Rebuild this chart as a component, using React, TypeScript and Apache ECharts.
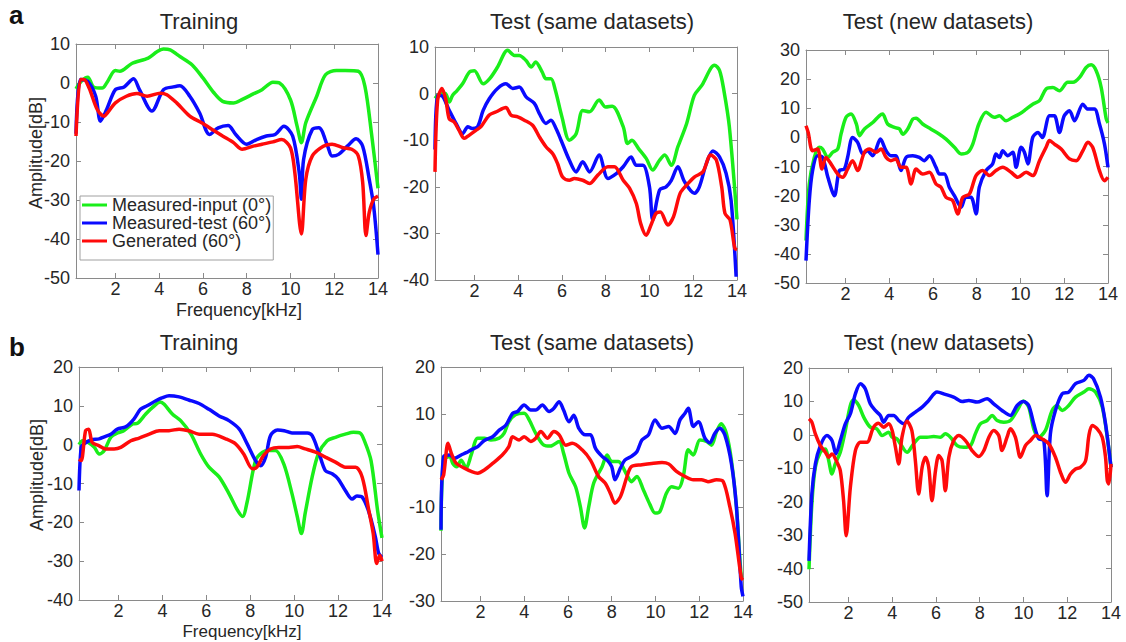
import React, { useEffect, useRef } from "react";
import * as echarts from "echarts";

type P = [number, number][];

const seriesNames = ["Measured-input (0°)", "Measured-test (60°)", "Generated (60°)"];
const panelTitles = ["Training", "Test (same datasets)", "Test (new datasets)"];
const freqTicks = [2, 4, 6, 8, 10, 12, 14];

// ---- row a ----
const a1Green: P = [[0.2,-1.5],[0.45,0.5],[0.74,1.5],[1.0,-1],[1.4,-1.3],[1.6,0],[2.0,3.2],[2.2,3],[2.75,5],[3.5,6.4],[3.9,8],[4.2,8.7],[4.5,8.5],[4.95,6.8],[5.5,4.7],[6.0,1.3],[6.5,-2.5],[6.9,-4.7],[7.4,-5.1],[7.8,-4.2],[8.3,-2.8],[8.7,-1.7],[9.2,0.2],[9.5,0],[10.0,-4.3],[10.3,-11],[10.5,-15.3],[10.7,-10.2],[11.2,-3.4],[11.6,2.1],[12.1,3.2],[12.5,3.2],[13.1,3],[13.4,-0.8],[13.7,-12.8],[14.0,-27]];
const a1Blue: P = [[0.2,-13],[0.4,0.9],[0.74,0.4],[1.1,-3.4],[1.32,-9.8],[1.6,-6.8],[2.0,-1.7],[2.4,-1],[2.83,1.1],[3.1,-1.7],[3.67,-7.2],[4.2,-1.7],[4.65,-1],[4.95,-0.7],[5.4,-3.4],[5.85,-7.7],[6.3,-13.2],[6.7,-11.5],[7.15,-10.9],[7.5,-13.2],[8.0,-15.7],[8.45,-14.5],[8.9,-13.6],[9.3,-13.2],[9.7,-11.1],[10.1,-13.6],[10.4,-23],[10.5,-29.8],[10.6,-19.6],[11.0,-11.9],[11.3,-11.5],[11.7,-16.2],[11.9,-18.7],[12.2,-18.3],[12.6,-16.2],[13.0,-14.3],[13.3,-16.2],[13.6,-24.7],[13.8,-31.5],[14,-44]];
const a1Red: P = [[0.2,-13.6],[0.4,0.9],[0.56,0.9],[0.8,-1.3],[1.17,-6.8],[1.47,-8.5],[1.7,-7.2],[2.0,-5.1],[2.5,-3.4],[2.98,-2.7],[3.45,-3.4],[4.05,-2.6],[4.35,-3],[4.8,-5.1],[5.4,-8.5],[5.94,-10.2],[6.5,-12.2],[6.9,-13.6],[7.4,-15.3],[7.8,-17],[8.3,-16.2],[8.7,-15.7],[9.2,-15.1],[9.6,-14.5],[10.0,-16.6],[10.2,-23],[10.5,-38.7],[10.7,-24.7],[11.0,-18.7],[11.5,-16.2],[11.9,-15.7],[12.4,-16.6],[12.8,-17],[13.1,-18.7],[13.3,-25.5],[13.45,-39.1],[13.6,-33.2],[13.8,-29.8],[14,-29]];

const a2Green: P = [[0.2,-1],[0.47,0],[0.67,0],[0.85,-1.8],[1.0,-0.4],[1.2,0.6],[1.46,2.1],[1.77,4.6],[2.0,4.9],[2.4,2.1],[2.7,3.2],[3.06,5.7],[3.52,9.3],[3.83,8.2],[4.05,8.2],[4.36,7.1],[4.6,5.7],[4.8,6.8],[5.1,4.6],[5.27,3.2],[5.5,3.2],[5.7,0.7],[6.0,-5],[6.34,-10],[6.65,-8.6],[6.95,-3.6],[7.26,-3.9],[7.7,-1.4],[8.0,-2.9],[8.3,-2.7],[8.8,-7.1],[9.0,-10.7],[9.2,-10],[9.5,-11.8],[9.85,-13.9],[10.15,-16.4],[10.46,-14.3],[10.7,-13.2],[11.0,-15.4],[11.3,-11.4],[11.7,-6.4],[12.05,-0.4],[12.4,1.8],[12.8,5.4],[12.97,6.1],[13.2,5],[13.4,0.7],[13.65,-7.1],[14.0,-27]];
const a2Blue: P = [[0.2,-12],[0.3,-0.4],[0.47,-0.4],[0.85,-3.6],[1.16,-6.4],[1.46,-8.6],[1.7,-7.1],[1.9,-7.5],[2.15,-7.1],[2.4,-3.6],[2.68,-1.1],[3.06,1.1],[3.44,2.1],[3.75,1.1],[4.05,1.4],[4.36,-0.7],[4.74,-2.1],[4.97,-4.3],[5.27,-6.4],[5.5,-5.7],[5.73,-7.5],[5.96,-10],[6.34,-14.3],[6.65,-16.8],[6.95,-14.6],[7.26,-16.8],[7.7,-13.2],[8.1,-18.2],[8.5,-17.1],[8.8,-15.7],[9.16,-13.6],[9.4,-15.4],[9.7,-15.4],[10.0,-20],[10.15,-27.1],[10.46,-20.7],[10.76,-20],[11.0,-18.6],[11.3,-15.7],[11.6,-18.9],[12.05,-21.4],[12.28,-20],[12.6,-15],[12.9,-12.3],[13.2,-13.6],[13.5,-17.1],[13.73,-22.9],[13.96,-39.3]];
const a2Red: P = [[0.2,-16.8],[0.32,-1.4],[0.52,1.1],[0.7,-1.4],[0.85,-5.4],[1.08,-6.1],[1.3,-7.9],[1.54,-9.6],[1.77,-8.9],[2.07,-7.9],[2.3,-7.1],[2.68,-4.6],[3.0,-3.9],[3.44,-3],[3.67,-4.6],[3.98,-5],[4.28,-5.7],[4.66,-6.8],[4.97,-9.3],[5.27,-11.4],[5.58,-12.9],[5.8,-15],[6.03,-17.9],[6.34,-18.6],[6.57,-18.2],[6.95,-18.6],[7.26,-19.3],[7.64,-17.5],[8.1,-15.7],[8.4,-15.7],[8.8,-18.6],[9.1,-20.4],[9.4,-23.6],[9.6,-27.9],[9.85,-30.4],[10.07,-28.2],[10.3,-25.7],[10.5,-25.4],[10.84,-28.2],[11.1,-26.4],[11.4,-21.4],[11.7,-19.6],[12.05,-17.9],[12.44,-16.8],[12.8,-13.2],[13.06,-14.3],[13.3,-20],[13.45,-25.7],[13.68,-27.1],[13.9,-33.2],[14.0,-33.5]];

const a3Green: P = [[0.2,-35.4],[0.35,-16],[0.58,-6.9],[0.8,-3.4],[0.96,-4],[1.2,-6.9],[1.42,-5.1],[1.65,-4],[1.8,1.1],[2.03,6.9],[2.26,8],[2.5,4.6],[2.64,0.6],[2.87,2.9],[3.25,5.1],[3.55,7.4],[3.7,8],[3.93,4.6],[4.24,3.4],[4.47,2.9],[4.62,1.1],[4.85,2.9],[5.08,6.3],[5.23,6.6],[5.53,4.6],[5.9,2.9],[6.3,1.1],[6.6,-0.6],[6.98,-3.4],[7.29,-5.7],[7.6,-5.1],[7.82,-2.3],[8.1,4.6],[8.43,8.6],[8.8,6.9],[9.04,7.4],[9.34,5.7],[9.65,6.9],[9.95,8],[10.26,9.7],[10.56,11.4],[10.87,12.6],[11.17,16.6],[11.48,17.1],[11.78,16],[12.16,18.9],[12.4,18.9],[12.7,20.6],[13.0,24],[13.23,24.9],[13.46,22.9],[13.69,17.1],[13.92,6.3],[14.0,5]];
const a3Blue: P = [[0.2,-42.3],[0.35,-21.7],[0.5,-11.4],[0.73,-6.3],[0.96,-6.9],[1.2,-13.7],[1.5,-20],[1.72,-11.4],[1.95,-10.9],[2.1,-6.9],[2.33,0],[2.56,-1.7],[2.8,-5.7],[3.0,-4.6],[3.25,-6.3],[3.6,-0.6],[3.86,-4.6],[4.08,-6.3],[4.3,-6.3],[4.54,-11.4],[4.77,-6.9],[5.08,-6.3],[5.38,-6.9],[5.6,-8],[5.84,-6.3],[6.14,-10.3],[6.3,-12.6],[6.52,-12.6],[6.75,-17.1],[6.98,-20],[7.29,-24],[7.5,-20.6],[7.74,-20.6],[7.97,-26.3],[8.12,-17.1],[8.43,-11.4],[8.73,-9.1],[8.88,-5.7],[9.04,-6.9],[9.19,-4.6],[9.42,-6.3],[9.65,-5.1],[9.8,-10.3],[10.03,-3.4],[10.18,-5.1],[10.34,-9.1],[10.56,0],[10.8,1.7],[11.0,0],[11.33,7.4],[11.55,7.4],[11.78,1.7],[12.0,7.4],[12.24,9.1],[12.47,5.7],[12.85,11.4],[13.08,9.7],[13.38,9.7],[13.61,4.6],[13.84,-2.3],[14.0,-10.3]];
const a3Red: P = [[0.2,4],[0.3,1.7],[0.5,-4.6],[0.73,-4],[0.93,-10.9],[1.11,-6.9],[1.34,-9.1],[1.65,-12.6],[1.88,-13.7],[2.1,-10.9],[2.33,-8],[2.56,-11.4],[2.87,-5.1],[3.1,-4],[3.4,-5.1],[3.63,-4],[3.86,-6.9],[4.08,-8],[4.3,-7.4],[4.54,-10.3],[4.77,-10.3],[5.0,-16],[5.23,-10.9],[5.53,-12.6],[5.84,-12],[6.14,-16],[6.37,-17.1],[6.6,-20.6],[6.9,-21.7],[7.13,-26.3],[7.36,-20.6],[7.67,-19.4],[7.97,-13.1],[8.27,-11.4],[8.58,-13.1],[8.88,-11.4],[9.19,-10.3],[9.57,-12],[9.88,-13.7],[10.26,-12],[10.56,-13.1],[10.87,-8],[11.17,-3.4],[11.33,-1.1],[11.55,-2.3],[11.86,-4],[12.24,-7.4],[12.55,-8],[12.85,-4.6],[13.08,-1.7],[13.3,-3.4],[13.61,-11.4],[13.84,-14.9],[14.0,-13.7]];

// ---- row b ----
const b1Green: P = [[0.2,0],[0.36,1],[0.6,0.6],[0.9,-0.7],[1.12,-2.4],[1.35,-1.5],[1.65,1.9],[1.95,3],[2.24,3.6],[2.64,5.3],[2.86,5.5],[3.24,7.9],[3.55,9.6],[3.9,11],[4.08,10.4],[4.45,7.9],[4.83,6.2],[5.3,2.7],[5.74,-2.4],[6.12,-5.8],[6.58,-8.3],[7.03,-12.6],[7.41,-16.8],[7.65,-18.5],[7.86,-14.7],[8.24,-4.1],[8.55,-2],[8.85,-1.5],[9.15,-1.5],[9.53,-5],[9.9,-12.6],[10.14,-18.5],[10.33,-22.9],[10.5,-17.7],[10.82,-8.3],[11.1,-2.4],[11.5,1],[11.88,1.9],[12.33,2.7],[12.7,3.2],[13.0,3],[13.2,1],[13.5,-4.1],[13.8,-17],[14,-24]];
const b1Blue: P = [[0.2,-11.8],[0.3,-0.7],[0.45,0.3],[0.75,1.2],[1.12,1.5],[1.35,2],[1.65,2.7],[1.95,4],[2.33,4.6],[2.7,6.6],[3.0,9.1],[3.3,10],[3.7,11.3],[4.0,12.1],[4.3,12.6],[4.76,12.3],[5.2,11.5],[5.67,10.6],[6.12,9.1],[6.58,7.4],[7.03,6.2],[7.5,4],[7.86,0.2],[8.24,-4.1],[8.47,-5.4],[8.7,-3.2],[8.92,2.3],[9.24,3.8],[9.55,3.6],[9.9,3],[10.2,3],[10.6,3],[10.82,2.3],[11.12,-2],[11.42,-6.7],[11.73,-7.5],[12.0,-8.8],[12.33,-11.8],[12.64,-14],[12.86,-13.2],[13.1,-13.5],[13.4,-17.3],[13.7,-23.8],[13.85,-28],[14,-29]];
const b1Red: P = [[0.2,-3.7],[0.3,-4.1],[0.5,3.6],[0.64,4],[0.8,0.6],[1.12,-0.3],[1.42,-1.1],[1.8,-1.1],[2.1,-0.7],[2.56,1],[2.94,1.7],[3.4,2.7],[3.85,3.6],[4.3,3.6],[4.76,4],[5.2,3.6],[5.67,2.7],[6.27,2.7],[6.88,1.5],[7.33,0.2],[7.7,-2.4],[8.1,-6.2],[8.3,-5.8],[8.6,-2.8],[8.92,-1.1],[9.3,-0.7],[9.76,-0.7],[10.14,-0.5],[10.5,-1.1],[11.0,-2],[11.42,-3.2],[11.88,-4.5],[12.33,-5.8],[12.8,-5.8],[13.1,-8.4],[13.4,-16.9],[13.6,-22.9],[13.76,-30.6],[13.9,-28.5],[14,-30]];

const b2Green: P = [[0.2,-15],[0.32,0.1],[0.6,0.9],[0.74,-0.6],[0.92,-1.3],[1.12,0.1],[1.35,-1.6],[1.58,1.2],[1.88,4.8],[2.18,4.8],[2.48,4.4],[2.86,4.8],[3.08,5.8],[3.3,8.3],[3.6,9.8],[4.0,10.1],[4.23,8.7],[4.53,5.8],[4.9,3.3],[5.2,3.1],[5.6,4.1],[5.8,1.6],[6.05,-2.7],[6.35,-5.6],[6.57,-9.9],[6.76,-14.4],[6.95,-9.9],[7.18,-4.8],[7.56,-1.3],[7.79,1.2],[8.0,-0.2],[8.3,-0.2],[8.7,-3.1],[8.9,-4.5],[9.15,-3.4],[9.45,-6.3],[9.75,-9.4],[9.98,-11.2],[10.2,-10.9],[10.5,-7],[10.74,-5.6],[11.05,-5.9],[11.27,-3.4],[11.5,2.3],[11.73,1.2],[12.03,4.4],[12.33,4.1],[12.56,3.3],[12.79,6.2],[13.0,7.9],[13.24,5.8],[13.47,0.1],[13.7,-9.9],[13.92,-24.8],[14,-25]];
const b2Blue: P = [[0.2,-14.8],[0.32,0.9],[0.6,1.2],[0.82,0.5],[1.12,1.2],[1.35,1.7],[1.58,2.3],[1.88,3],[2.18,4.3],[2.56,5.1],[2.86,6.5],[3.17,7.6],[3.47,10.1],[3.7,10.5],[4.0,11.9],[4.3,10.8],[4.53,10.8],[4.83,11.9],[5.14,10.5],[5.36,11.2],[5.6,12.6],[5.8,10.8],[6.05,8.3],[6.27,9.7],[6.5,6.9],[6.8,5.5],[7.03,5.5],[7.26,2.6],[7.56,0.9],[7.79,0.1],[8.0,-1.3],[8.15,-4.1],[8.4,-1.6],[8.6,0.1],[8.9,0.9],[9.15,1.9],[9.38,4.4],[9.68,5.5],[9.98,8.7],[10.3,6.9],[10.6,7.3],[10.9,5.8],[11.12,8.7],[11.35,10.1],[11.5,11.2],[11.73,7.3],[11.96,8.3],[12.26,4.8],[12.48,3.8],[12.71,5.8],[12.94,6.9],[13.17,5.5],[13.47,-0.6],[13.7,-9.9],[13.92,-27],[14,-29]];
const b2Red: P = [[0.2,-4.1],[0.32,-3.1],[0.52,3.7],[0.67,1.6],[0.9,-0.6],[1.27,-1.6],[1.58,-2.3],[1.88,-2.7],[2.18,-2],[2.56,-0.6],[3.0,1.2],[3.3,3],[3.47,5.1],[3.77,4.4],[4.0,5.1],[4.3,4.1],[4.53,4.8],[4.76,6.2],[5.06,4.8],[5.36,6.2],[5.6,5.5],[5.9,3.3],[6.2,3.7],[6.65,2.3],[7.03,0.1],[7.4,-3.4],[7.7,-4.8],[7.94,-7],[8.15,-9.1],[8.4,-7.7],[8.7,-3.4],[8.9,-1.3],[9.38,-0.9],[9.83,-0.6],[10.3,-0.4],[10.6,-0.7],[10.96,-2.3],[11.35,-3.4],[11.73,-4.1],[12.1,-4.1],[12.4,-4.5],[12.79,-4.1],[13.1,-4.5],[13.4,-9.9],[13.64,-15.6],[13.92,-25],[14,-25.5]];

const b3Green: P = [[0.2,-40.2],[0.33,-20.7],[0.49,-9.7],[0.72,-5.2],[0.95,-4.2],[1.1,-7.7],[1.25,-11.7],[1.4,-8.7],[1.63,-5.2],[1.86,1.3],[2.09,8.8],[2.24,10.5],[2.47,8.8],[2.7,5.3],[3.0,2.3],[3.3,1.8],[3.54,-0.2],[3.84,0.8],[4.0,-0.7],[4.22,-1.2],[4.38,-2.7],[4.68,-5.2],[4.98,-2.7],[5.29,-0.7],[5.59,-0.7],[5.9,-0.5],[6.2,-0.7],[6.43,0.3],[6.66,-0.7],[6.97,-3.2],[7.27,-3.7],[7.58,-3.2],[7.8,0.3],[8.03,3.3],[8.34,4.3],[8.57,5.8],[8.8,4.3],[9.1,3.8],[9.4,4.3],[9.71,7.3],[10.0,10.1],[10.24,8.3],[10.47,1.8],[10.7,-0.7],[11.0,1.3],[11.31,7.3],[11.54,8.8],[11.77,7.3],[12.07,8.8],[12.38,11.3],[12.76,12.8],[12.99,13.8],[13.29,12.8],[13.6,8.3],[13.83,-0.7],[14.0,-9.7]];
const b3Blue: P = [[0.2,-37.7],[0.33,-17.7],[0.49,-8.7],[0.72,-3.2],[1.02,-0.2],[1.25,-1.7],[1.43,-5.7],[1.63,-1.7],[1.86,3.3],[2.09,6.3],[2.32,12.3],[2.55,15.3],[2.77,13.8],[3.0,9.3],[3.23,7.3],[3.46,5.8],[3.61,3.8],[3.84,5.8],[4.07,5.8],[4.3,4.3],[4.53,3.3],[4.76,5.3],[5.06,6.8],[5.37,8.3],[5.67,10.3],[6.05,12.8],[6.43,12.1],[6.81,11.3],[7.2,10],[7.5,10.3],[7.88,9.8],[8.34,10.8],[8.64,9.3],[9.02,7.3],[9.4,5.8],[9.71,8.8],[10.0,10],[10.24,8.8],[10.47,3.3],[10.7,-1.2],[10.93,-1.7],[11.08,-18.2],[11.23,0.3],[11.46,7.3],[11.77,12.3],[12.07,12.8],[12.38,15.3],[12.76,16.3],[12.99,17.8],[13.2,16.8],[13.52,11.3],[13.75,3.3],[14.0,-9.7]];
const b3Red: P = [[0.2,4.8],[0.33,3.8],[0.49,0.3],[0.72,-3.2],[0.95,-5.2],[1.1,-6.7],[1.25,-5.7],[1.48,-8.2],[1.63,-10.7],[1.78,-19.7],[1.9,-30.2],[2.09,-15.7],[2.32,-4.7],[2.55,-2.2],[2.85,-2.2],[3.15,2.3],[3.38,3.5],[3.61,2.3],[3.84,3.3],[4.0,1.3],[4.15,-3.7],[4.3,-8.7],[4.45,-0.7],[4.68,4.1],[4.9,1.3],[5.06,-7.7],[5.21,-17.7],[5.37,-9.7],[5.52,-6.7],[5.67,-9.7],[5.82,-19.7],[5.98,-10.7],[6.13,-6.2],[6.28,-7.7],[6.43,-16.7],[6.59,-6.7],[6.81,-1.7],[7.04,-0.2],[7.35,-1.7],[7.65,-4.7],[7.96,-6.5],[8.19,-4.7],[8.42,-0.7],[8.64,1.3],[8.87,-0.2],[9.02,-4.7],[9.25,-0.7],[9.4,1.8],[9.63,-0.7],[9.86,-6.7],[10.09,-3.2],[10.32,-1.7],[10.55,-0.2],[10.85,-1.2],[11.16,-2.7],[11.46,-6.7],[11.72,-11.7],[11.92,-14.2],[12.15,-11.7],[12.38,-10.2],[12.6,-9.7],[12.84,-7.7],[12.99,-0.2],[13.14,2.8],[13.37,1.8],[13.6,-0.7],[13.75,-6.7],[13.83,-13.7],[13.9,-14.7],[14.0,-8.7]];

const FONT = '"Liberation Sans", Arial, Helvetica, sans-serif';
const TXT = "#262626";
const AX = "#8a8a8a";
const COLORS = ["#1aee1a", "#0a0aff", "#ff0a0a"];

const panels = [
  { grid: { left: 76, top: 44, width: 302, height: 234 }, yMin: -50, yMax: 10, data: [a1Green, a1Blue, a1Red] },
  { grid: { left: 435, top: 47, width: 302, height: 233 }, yMin: -40, yMax: 10, data: [a2Green, a2Blue, a2Red] },
  { grid: { left: 806, top: 50, width: 302, height: 233 }, yMin: -50, yMax: 30, data: [a3Green, a3Blue, a3Red] },
  { grid: { left: 79, top: 367, width: 303, height: 233 }, yMin: -40, yMax: 20, data: [b1Green, b1Blue, b1Red] },
  { grid: { left: 441, top: 367, width: 302, height: 234 }, yMin: -30, yMax: 20, data: [b2Green, b2Blue, b2Red] },
  { grid: { left: 809, top: 368, width: 302, height: 234 }, yMin: -50, yMax: 20, data: [b3Green, b3Blue, b3Red] },
];

const titlePos = [
  [199, 21], [592, 21], [938, 21],
  [199, 342], [592, 342], [939, 342],
];

export default function App() {
  const ref = useRef<HTMLDivElement>(null);
  useEffect(() => {
    if (!ref.current) return;
    const chart = echarts.init(ref.current, null, { renderer: "svg" });
    const grids: any[] = [];
    const xAxes: any[] = [];
    const yAxes: any[] = [];
    const series: any[] = [];
    const axisLine = { show: true, onZero: false, lineStyle: { color: AX, width: 1 } };
    const tickStyle = { inside: true, length: 5, lineStyle: { color: AX, width: 1 } };
    panels.forEach((p, i) => {
      grids.push({ ...p.grid, containLabel: false });
      const xb = { type: "value", gridIndex: i, min: 0.2, max: 14, splitLine: { show: false }, axisLine };
      xAxes.push({
        ...xb, position: "bottom",
        axisTick: { ...tickStyle, customValues: freqTicks },
        axisLabel: { customValues: freqTicks, fontSize: 18, lineHeight: 15, color: TXT, fontFamily: FONT, margin: 3 },
      });
      xAxes.push({
        ...xb, position: "top",
        axisTick: { ...tickStyle, customValues: freqTicks },
        axisLabel: { show: false },
      });
      const yb = { type: "value", gridIndex: i, min: p.yMin, max: p.yMax, interval: 10, splitLine: { show: false }, axisLine };
      yAxes.push({
        ...yb, position: "left", axisTick: tickStyle,
        axisLabel: { fontSize: 18, color: TXT, fontFamily: FONT, margin: 6 },
      });
      yAxes.push({ ...yb, position: "right", axisTick: tickStyle, axisLabel: { show: false } });
      p.data.forEach((d, k) => {
        series.push({
          type: "line", name: seriesNames[k], xAxisIndex: 2 * i, yAxisIndex: 2 * i,
          data: d, showSymbol: false, symbol: "none", smooth: 0.3,
          lineStyle: { color: COLORS[k], width: 3.5 }, itemStyle: { color: COLORS[k] },
          emphasis: { disabled: true }, z: 2 + k,
        });
      });
    });

    const graphics: any[] = [];
    titlePos.forEach(([x, y], i) => {
      graphics.push({
        type: "text", x, y,
        style: { text: panelTitles[i % 3], fontSize: 22, fontFamily: FONT, fill: TXT, align: "center", verticalAlign: "middle" },
      });
    });
    graphics.push({ type: "text", x: 9, y: 15, style: { text: "a", fontSize: 26, fontWeight: "bold", fontFamily: FONT, fill: "#111", align: "left", verticalAlign: "middle" } });
    graphics.push({ type: "text", x: 9, y: 347, style: { text: "b", fontSize: 26, fontWeight: "bold", fontFamily: FONT, fill: "#111", align: "left", verticalAlign: "middle" } });
    [[36, 153], [37, 475]].forEach(([x, y]) => {
      graphics.push({ type: "text", x, y, rotation: Math.PI / 2, style: { text: "Amplitude[dB]", fontSize: 18, fontFamily: FONT, fill: TXT, align: "center", verticalAlign: "middle" } });
    });
    [[239, 310, 18], [242, 631, 17]].forEach(([x, y, fs]) => {
      graphics.push({ type: "text", x, y, style: { text: "Frequency[kHz]", fontSize: fs, lineHeight: 17, fontFamily: FONT, fill: TXT, align: "center", verticalAlign: "middle" } });
    });

    chart.setOption({
      animation: false,
      backgroundColor: "#ffffff",
      grid: grids,
      xAxis: xAxes,
      yAxis: yAxes,
      series,
      legend: {
        data: seriesNames, orient: "vertical", left: 80, top: 196,
        itemGap: 0, itemWidth: 25, itemHeight: 3, icon: "rect",
        padding: [0, 2, 10, 2], borderColor: "#a0a0a0", borderWidth: 1, backgroundColor: "#fff",
        textStyle: { fontSize: 18, color: TXT, fontFamily: FONT, lineHeight: 17 },
      },
      graphic: graphics,
    });
    return () => chart.dispose();
  }, []);
  return <div ref={ref} style={{ position: "absolute", left: 0, top: 0, width: 1126, height: 642 }} />;
}
